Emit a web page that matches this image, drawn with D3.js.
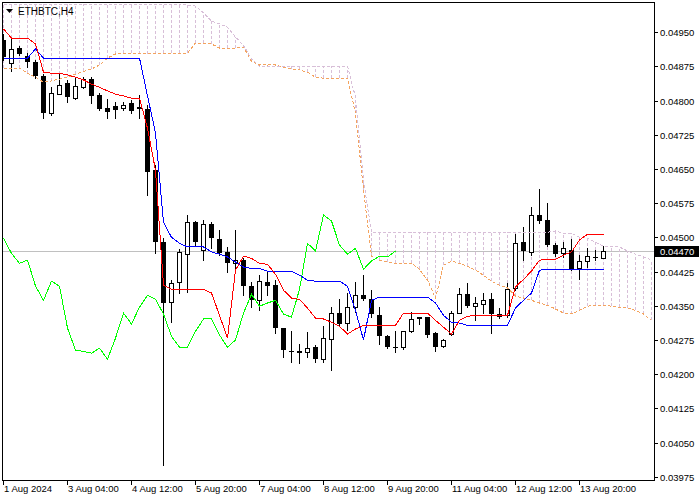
<!DOCTYPE html>
<html>
<head>
<meta charset="utf-8">
<script src="https://cdn.jsdelivr.net/npm/d3@7"></script>
<style>
  body { margin: 0; background: #fff; }
  text { font-family: "Liberation Sans", Arial, sans-serif; }
</style>
</head>
<body>
<svg id="chart"></svg>
<script>
const symbol = 'ETHBTC,H4';
const lastPrice = 0.04470;

// bottom labels, one every 8 bars
const timeLabels = ['1 Aug 2024', '3 Aug 04:00', '4 Aug 12:00', '5 Aug 20:00', '7 Aug 04:00',
    '8 Aug 12:00', '9 Aug 20:00', '11 Aug 04:00', '12 Aug 12:00', '13 Aug 20:00'];
const priceTicks = [0.03975, 0.04050, 0.04125, 0.04200, 0.04275, 0.04350, 0.04425,
    0.04500, 0.04575, 0.04650, 0.04725, 0.04800, 0.04875, 0.04950];

const opens = [
    0.04932, 0.04882, 0.04915, 0.04897, 0.04884, 0.04854, 0.04772, 0.04814, 0.04838, 0.04805,
    0.04829, 0.04847, 0.04812, 0.04783, 0.04788, 0.04783, 0.04794, 0.04783, 0.04781, 0.04647,
    0.04489, 0.04358, 0.04402, 0.04463, 0.04533, 0.04472, 0.04529, 0.04496, 0.04468, 0.04443,
    0.04450, 0.04393, 0.04362, 0.04402, 0.04395, 0.04301, 0.04250, 0.04251, 0.04248, 0.04259,
    0.04233, 0.04277, 0.04334, 0.04312, 0.04347, 0.04373, 0.04364, 0.04329, 0.04283, 0.04259,
    0.04259, 0.04294, 0.04325, 0.04325, 0.04290, 0.04261, 0.04288, 0.04334, 0.04375, 0.04349,
    0.04354, 0.04364, 0.04332, 0.04329, 0.04389, 0.04489, 0.04468, 0.04549, 0.04538, 0.04483,
    0.04465, 0.04472, 0.04432, 0.04448, 0.04457, 0.04454];
const highs = [
    0.04945, 0.04935, 0.04919, 0.04904, 0.04889, 0.04858, 0.04829, 0.04860, 0.04845, 0.04849,
    0.04851, 0.04851, 0.04816, 0.04803, 0.04797, 0.04797, 0.04801, 0.04812, 0.04790, 0.04658,
    0.04498, 0.04406, 0.04474, 0.04549, 0.04536, 0.04538, 0.04533, 0.04516, 0.04479, 0.04516,
    0.04454, 0.04402, 0.04417, 0.04424, 0.04406, 0.04301, 0.04294, 0.04266, 0.04292, 0.04264,
    0.04305, 0.04347, 0.04364, 0.04378, 0.04402, 0.04417, 0.04384, 0.04347, 0.04286, 0.04294,
    0.04294, 0.04336, 0.04325, 0.04325, 0.04292, 0.04277, 0.04338, 0.04389, 0.04400, 0.04369,
    0.04378, 0.04378, 0.04345, 0.04400, 0.04507, 0.04522, 0.04566, 0.04606, 0.04575, 0.04487,
    0.04489, 0.04496, 0.04461, 0.04476, 0.04472, 0.04481];
const lows = [
    0.04889, 0.04865, 0.04900, 0.04873, 0.04849, 0.04761, 0.04768, 0.04814, 0.04797, 0.04803,
    0.04827, 0.04794, 0.04779, 0.04761, 0.04761, 0.04779, 0.04772, 0.04761, 0.04593, 0.04465,
    0.04000, 0.04314, 0.04378, 0.04380, 0.04483, 0.04450, 0.04476, 0.04461, 0.04424, 0.04424,
    0.04373, 0.04347, 0.04340, 0.04373, 0.04290, 0.04237, 0.04227, 0.04224, 0.04237, 0.04226,
    0.04226, 0.04209, 0.04308, 0.04297, 0.04336, 0.04362, 0.04325, 0.04266, 0.04257, 0.04248,
    0.04255, 0.04292, 0.04310, 0.04281, 0.04251, 0.04259, 0.04286, 0.04334, 0.04347, 0.04318,
    0.04334, 0.04290, 0.04323, 0.04325, 0.04384, 0.04450, 0.04461, 0.04531, 0.04481, 0.04459,
    0.04457, 0.04428, 0.04408, 0.04435, 0.04450, 0.04454];
const closes = [
    0.04895, 0.04913, 0.04902, 0.04884, 0.04854, 0.04772, 0.04816, 0.04834, 0.04808, 0.04832,
    0.04847, 0.04810, 0.04781, 0.04775, 0.04779, 0.04790, 0.04777, 0.04786, 0.04643, 0.04489,
    0.04356, 0.04400, 0.04468, 0.04533, 0.04489, 0.04529, 0.04498, 0.04465, 0.04443, 0.04450,
    0.04393, 0.04362, 0.04404, 0.04393, 0.04301, 0.04253, 0.04250, 0.04246, 0.04257, 0.04233,
    0.04279, 0.04334, 0.04310, 0.04347, 0.04373, 0.04364, 0.04332, 0.04283, 0.04259, 0.04259,
    0.04294, 0.04321, 0.04321, 0.04286, 0.04259, 0.04275, 0.04334, 0.04375, 0.04349, 0.04356,
    0.04362, 0.04332, 0.04325, 0.04386, 0.04487, 0.04470, 0.04549, 0.04536, 0.04483, 0.04463,
    0.04476, 0.04430, 0.04448, 0.04459, 0.04457, 0.04470];

// ichimoku lines
const tenkan = [
    0.04957, 0.04937, 0.04937, 0.04937, 0.04924, 0.04862, 0.04860, 0.04860, 0.04856, 0.04851,
    0.04845, 0.04836, 0.04829, 0.04821, 0.04814, 0.04810, 0.04805, 0.04805, 0.04739, 0.04647,
    0.04395, 0.04386, 0.04386, 0.04386, 0.04386, 0.04386, 0.04378, 0.04329, 0.04279, 0.04428,
    0.04459, 0.04454, 0.04443, 0.04441, 0.04419, 0.04384, 0.04367, 0.04364, 0.04345, 0.04323,
    0.04321, 0.04314, 0.04305, 0.04288, 0.04299, 0.04307, 0.04307, 0.04307, 0.04307, 0.04307,
    0.04334, 0.04334, 0.04334, 0.04334, 0.04318, 0.04303, 0.04288, 0.04318, 0.04327, 0.04329,
    0.04329, 0.04329, 0.04329, 0.04329, 0.04391, 0.04408, 0.04426, 0.04450, 0.04452, 0.04452,
    0.04461, 0.04468, 0.04494, 0.04507, 0.04507, 0.04507];
const kijun = [
    0.04893, 0.04893, 0.04893, 0.04893, 0.04913, 0.04893, 0.04893, 0.04893, 0.04893, 0.04893,
    0.04893, 0.04893, 0.04893, 0.04893, 0.04893, 0.04893, 0.04893, 0.04893, 0.04810, 0.04729,
    0.04533, 0.04500, 0.04487, 0.04479, 0.04479, 0.04479, 0.04468, 0.04463, 0.04457, 0.04446,
    0.04435, 0.04432, 0.04432, 0.04426, 0.04426, 0.04426, 0.04426, 0.04417, 0.04406, 0.04404,
    0.04404, 0.04404, 0.04404, 0.04393, 0.04340, 0.04275, 0.04362, 0.04369, 0.04369, 0.04369,
    0.04369, 0.04369, 0.04369, 0.04369, 0.04356, 0.04329, 0.04314, 0.04312, 0.04307, 0.04307,
    0.04307, 0.04307, 0.04307, 0.04307, 0.04345, 0.04362, 0.04378, 0.04428, 0.04430, 0.04430,
    0.04430, 0.04430, 0.04430, 0.04430, 0.04430, 0.04430];
const chikou = [
    0.04498, 0.04465, 0.04443, 0.04450, 0.04393, 0.04362, 0.04404, 0.04393, 0.04301, 0.04253,
    0.04250, 0.04246, 0.04257, 0.04233, 0.04279, 0.04334, 0.04310, 0.04347, 0.04373, 0.04364,
    0.04332, 0.04283, 0.04259, 0.04259, 0.04294, 0.04321, 0.04321, 0.04286, 0.04259, 0.04275,
    0.04334, 0.04375, 0.04349, 0.04356, 0.04362, 0.04332, 0.04325, 0.04386, 0.04487, 0.04470,
    0.04549, 0.04536, 0.04483, 0.04463, 0.04476, 0.04430, 0.04448, 0.04459, 0.04457, 0.04470];
const spanA = [
    0.04871, 0.04871, 0.04871, 0.04860, 0.04851, 0.04840, 0.04843, 0.04847, 0.04851, 0.04858,
    0.04864, 0.04869, 0.04878, 0.04893, 0.04902, 0.04904, 0.04904, 0.04902, 0.04902, 0.04902,
    0.04904, 0.04904, 0.04904, 0.04904, 0.04926, 0.04926, 0.04924, 0.04915, 0.04915, 0.04915,
    0.04917, 0.04886, 0.04878, 0.04878, 0.04878, 0.04873, 0.04869, 0.04867, 0.04862, 0.04851,
    0.04849, 0.04849, 0.04849, 0.04849, 0.04772, 0.04604, 0.04459, 0.04450, 0.04446, 0.04443,
    0.04443, 0.04443, 0.04430, 0.04406, 0.04367, 0.04439, 0.04448, 0.04443, 0.04437, 0.04428,
    0.04417, 0.04404, 0.04395, 0.04389, 0.04371, 0.04367, 0.04362, 0.04356, 0.04351, 0.04343,
    0.04334, 0.04332, 0.04340, 0.04349, 0.04351, 0.04351, 0.04349, 0.04347, 0.04345, 0.04340,
    0.04332, 0.04318];
const spanB = [
    0.05011, 0.05011, 0.05011, 0.05011, 0.05011, 0.05011, 0.05011, 0.05011, 0.05011, 0.05011,
    0.05011, 0.05011, 0.05011, 0.05011, 0.05011, 0.05011, 0.05011, 0.05011, 0.05011, 0.05011,
    0.05011, 0.05011, 0.05011, 0.05009, 0.05007, 0.04992, 0.04974, 0.04968, 0.04961, 0.04939,
    0.04921, 0.04891, 0.04875, 0.04875, 0.04875, 0.04875, 0.04875, 0.04875, 0.04875, 0.04875,
    0.04875, 0.04875, 0.04875, 0.04875, 0.04807, 0.04625, 0.04511, 0.04511, 0.04511, 0.04511,
    0.04511, 0.04511, 0.04511, 0.04511, 0.04511, 0.04511, 0.04511, 0.04511, 0.04511, 0.04511,
    0.04511, 0.04511, 0.04511, 0.04511, 0.04511, 0.04511, 0.04511, 0.04511, 0.04511, 0.04514,
    0.04509, 0.04509, 0.04500, 0.04498, 0.04489, 0.04481, 0.04481, 0.04479, 0.04470, 0.04463,
    0.04457, 0.04450];

class IchimokuChart {
    constructor(config) {
        this.config = {
            parent: config.parent,
            width: config.width || 700,
            height: config.height || 500,
            plot: config.plot || { left: 2, top: 2, right: 654, bottom: 480 },
            barSpacing: config.barSpacing || 8
        };
        this.init();
    }

    init() {
        let self = this;
        const p = self.config.plot;

        self.svg = d3.select(self.config.parent)
            .attr('width', self.config.width)
            .attr('height', self.config.height)
            .style('display', 'block');

        self.svg.append('rect')
            .attr('width', self.config.width)
            .attr('height', self.config.height)
            .attr('fill', '#fff');

        self.svg.append('clipPath').attr('id', 'plotclip')
            .append('rect')
            .attr('x', p.left + 1).attr('y', p.top + 1)
            .attr('width', p.right - p.left - 1)
            .attr('height', p.bottom - p.top - 1);

        // one bar every 8px, first bar centre at x=3
        self.xscale = d3.scaleLinear()
            .domain([0, 1])
            .range([3, 3 + self.config.barSpacing]);

        self.yscale = d3.scaleLinear()
            .domain([0.03968, 0.05016])
            .range([p.bottom, p.top]);

        self.plot = self.svg.append('g').attr('clip-path', 'url(#plotclip)');
        self.render();
    }

    render() {
        let self = this;
        const p = self.config.plot;
        const xs = i => Math.round(self.xscale(i));
        const ys = v => self.yscale(v);

        // current price line
        self.plot.append('line')
            .attr('x1', p.left).attr('x2', p.right)
            .attr('y1', Math.round(ys(lastPrice)) + 0.5).attr('y2', Math.round(ys(lastPrice)) + 0.5)
            .attr('stroke', '#c0c0c0');

        // cloud hatching
        self.plot.append('g').selectAll('line')
            .data(spanA.map((a, i) => ({ i, a, b: spanB[i] })))
            .join('line')
            .attr('x1', d => xs(d.i) + 0.5).attr('x2', d => xs(d.i) + 0.5)
            .attr('y1', d => ys(d.a)).attr('y2', d => ys(d.b))
            .attr('stroke', d => d.b >= d.a ? 'thistle' : 'sandybrown')
            .attr('stroke-dasharray', '3,2')
            .attr('shape-rendering', 'crispEdges');

        // candles
        const candles = opens.map((o, i) => ({ i, o, h: highs[i], l: lows[i], c: closes[i] }));
        const cg = self.plot.append('g').attr('shape-rendering', 'crispEdges');
        cg.selectAll('line.wick')
            .data(candles)
            .join('line')
            .attr('class', 'wick')
            .attr('x1', d => xs(d.i) + 0.5).attr('x2', d => xs(d.i) + 0.5)
            .attr('y1', d => Math.round(ys(d.h))).attr('y2', d => Math.round(ys(d.l)) + 1)
            .attr('stroke', '#000');
        cg.selectAll('rect.body')
            .data(candles.filter(d => d.o !== d.c))
            .join('rect')
            .attr('class', 'body')
            .attr('x', d => d.c > d.o ? xs(d.i) - 1.5 : xs(d.i) - 2)
            .attr('y', d => Math.round(ys(Math.max(d.o, d.c))) + (d.c > d.o ? 0.5 : 0))
            .attr('width', d => d.c > d.o ? 4 : 5)
            .attr('height', d => Math.max(1, Math.round(Math.abs(ys(d.o) - ys(d.c)))))
            .attr('fill', d => d.c > d.o ? '#fff' : '#000')
            .attr('stroke', d => d.c > d.o ? '#000' : 'none');
        cg.selectAll('line.doji')
            .data(candles.filter(d => d.o === d.c))
            .join('line')
            .attr('class', 'doji')
            .attr('x1', d => xs(d.i) - 2).attr('x2', d => xs(d.i) + 3)
            .attr('y1', d => Math.round(ys(d.c)) + 0.5).attr('y2', d => Math.round(ys(d.c)) + 0.5)
            .attr('stroke', '#000');

        const drawLine = (values, color, dashed) => {
            const line = d3.line()
                .x((d, i) => xs(i) + 0.5)
                .y(d => ys(d));
            self.plot.append('path')
                .datum(values)
                .attr('d', line)
                .attr('fill', 'none')
                .attr('stroke', color)
                .attr('stroke-width', 1)
                .attr('stroke-dasharray', dashed ? '3,2' : null)
                .attr('shape-rendering', 'crispEdges');
        };
        drawLine(spanA, 'sandybrown', true);
        drawLine(spanB, 'thistle', true);
        drawLine(chikou, 'lime', false);
        drawLine(kijun, 'blue', false);
        drawLine(tenkan, 'red', false);

        // frame
        self.svg.append('rect')
            .attr('x', p.left + 0.5).attr('y', p.top + 0.5)
            .attr('width', p.right - p.left).attr('height', p.bottom - p.top)
            .attr('fill', 'none').attr('stroke', '#000')
            .attr('shape-rendering', 'crispEdges');

        // price axis
        const yaxis = self.svg.append('g').attr('shape-rendering', 'crispEdges');
        yaxis.selectAll('line')
            .data(priceTicks)
            .join('line')
            .attr('x1', p.right + 0.5).attr('x2', p.right + 4)
            .attr('y1', d => Math.round(ys(d)) + 0.5).attr('y2', d => Math.round(ys(d)) + 0.5)
            .attr('stroke', '#000');
        yaxis.selectAll('text')
            .data(priceTicks)
            .join('text')
            .attr('x', p.right + 6)
            .attr('y', d => Math.round(ys(d)) + 4)
            .style('font-size', '9.5px')
            .attr('fill', '#000')
            .text(d => d3.format('.5f')(d));

        const ly = Math.round(ys(lastPrice));
        self.svg.append('rect')
            .attr('x', p.right + 1).attr('y', ly - 5)
            .attr('width', 44).attr('height', 11)
            .attr('fill', '#000');
        self.svg.append('text')
            .attr('x', p.right + 6).attr('y', ly + 4)
            .style('font-size', '9.5px')
            .attr('fill', '#fff')
            .text(d3.format('.5f')(lastPrice));

        // time axis
        const xaxis = self.svg.append('g');
        xaxis.selectAll('line')
            .data(timeLabels)
            .join('line')
            .attr('x1', (d, i) => xs(i * 8) + 0.5).attr('x2', (d, i) => xs(i * 8) + 0.5)
            .attr('y1', p.bottom).attr('y2', p.bottom + 5)
            .attr('stroke', '#000')
            .attr('shape-rendering', 'crispEdges');
        xaxis.selectAll('text')
            .data(timeLabels)
            .join('text')
            .attr('x', (d, i) => xs(i * 8) + 1)
            .attr('y', p.bottom + 12)
            .style('font-size', '9.5px')
            .attr('fill', '#000')
            .text(d => d);

        // symbol caption
        self.svg.append('path')
            .attr('d', 'M6,9 L13,9 L9.5,13 Z')
            .attr('fill', '#000');
        self.svg.append('text')
            .attr('x', 18).attr('y', 15)
            .style('font-size', '10px')
            .attr('fill', '#000')
            .text(symbol);
    }
}

new IchimokuChart({ parent: '#chart' });
</script>
</body>
</html>
